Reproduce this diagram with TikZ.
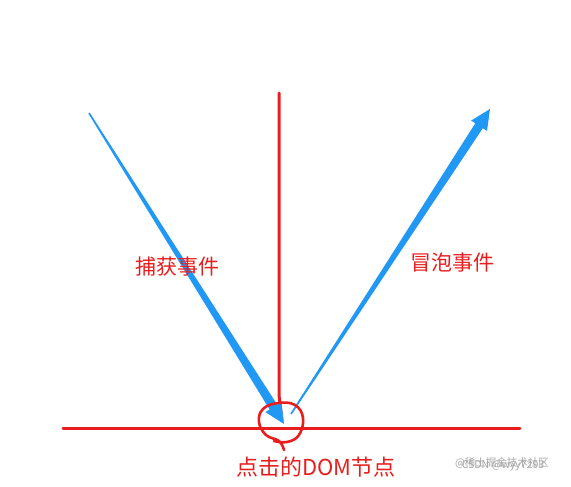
\documentclass[tikz,border=0pt]{standalone}
\usepackage{fontspec}
\newfontfamily\cjk{Noto Sans CJK SC}
\usetikzlibrary{calc}
\definecolor{evtred}{RGB}{232,30,30}
\definecolor{evtblue}{RGB}{33,152,243}

% tapered arrow: start, tip
\newcommand{\taperarrow}[2]{
    \fill[evtblue] ($(#1)!0.8pt!90:(#2)$) -- ($($(#2)!20pt!(#1)$)!4.5pt!-90:(#1)$)
        -- ($($(#2)!20pt!(#1)$)!9.5pt!-90:(#1)$) -- (#2)
        -- ($($(#2)!20pt!(#1)$)!9.5pt!90:(#1)$) -- ($($(#2)!20pt!(#1)$)!4.5pt!90:(#1)$)
        -- ($(#1)!0.8pt!-90:(#2)$) -- cycle;
}

\begin{document}
\begin{tikzpicture}[x=1pt, y=-1pt,
    redline/.style={evtred, line width=3pt, line cap=round},
    evtlabel/.style={text=evtred, font=\cjk\fontsize{21}{25}\selectfont, inner sep=0pt},
    mark text/.style={text=black!35, font=\cjk\fontsize{10.5}{12}\selectfont, inner sep=0pt}]
\useasboundingbox (0,0) rectangle (571,487);

% Axes
\coordinate (vtop) at (279,93);
\coordinate (vbend) at (279,395);
\coordinate (vbot) at (282,421);
\coordinate (hleft) at (63,428);
\coordinate (hright) at (520,428);
\draw[redline] (vtop) -- (vbend) -- (vbot);
\draw[redline] (hleft) -- (hright);

% Capture and bubble
\coordinate (capstart) at (89,113);
\coordinate (captip) at (284,424);
\coordinate (bubstart) at (291,414);
\coordinate (bubtip) at (490,109);
\taperarrow{capstart}{captip}
\taperarrow{bubstart}{bubtip}

% Hand-drawn circle
\draw[evtred, line width=2.6pt, line cap=round] plot[smooth, tension=0.7] coordinates {
    (284,450) (279,441) (266,435) (259,422) (263,409) (278,403)
    (295,405) (303,418) (299,435) (287,442) (274,441)};

% Labels
\node[evtlabel] (caplabel) at (177,267) {捕获事件};
\node[evtlabel] (bublabel) at (452,263) {冒泡事件};
\node[evtlabel, font=\cjk\fontsize{22}{26}\selectfont] (domlabel) at (316,467) {点击的DOM节点};

% Watermarks
\node[mark text] (mark1) at (503,466) {CSDN @wyy7293};
\node[mark text] (mark2) at (502,463) {@稀土掘金技术社区};
\end{tikzpicture}
\end{document}
